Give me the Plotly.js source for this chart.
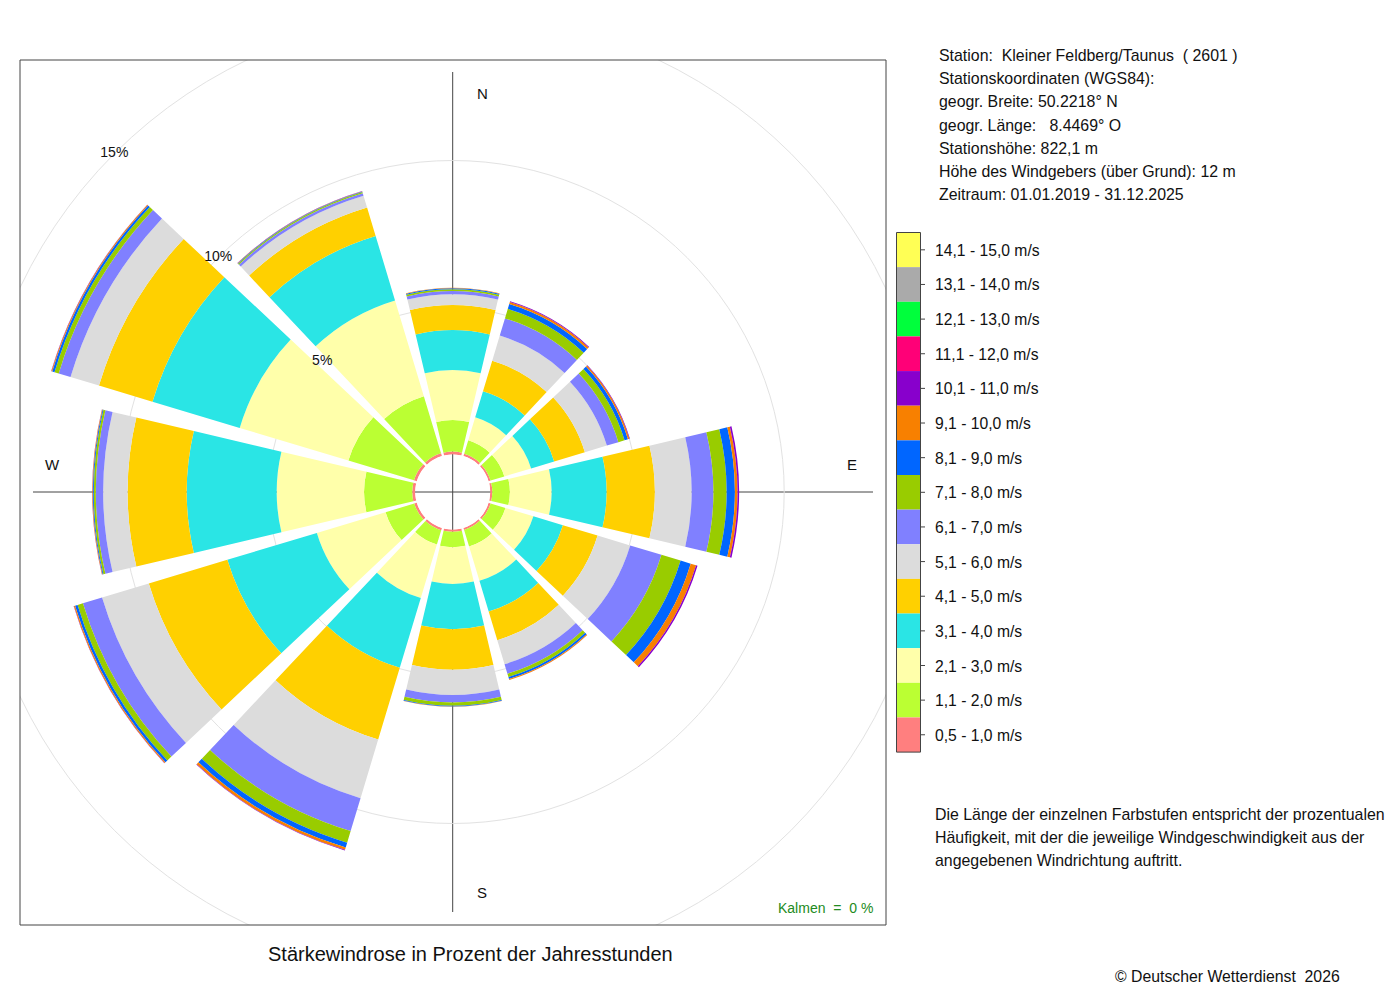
<!DOCTYPE html>
<html>
<head>
<meta charset="utf-8">
<script src="https://cdn.plot.ly/plotly-3.0.1.min.js"></script>
<style>
html, body { margin:0; padding:0; background:#ffffff; width:1400px; height:1000px; overflow:hidden; }
#chart { position:absolute; left:-200px; top:-200px; width:1800px; height:1400px; }
</style>
</head>
<body>
<div id="chart"></div>
<script>
// Wind directions in degrees, clockwise from north
const directions = [0, 30, 60, 90, 120, 150, 180, 210, 240, 270, 300, 330];

// Speed classes, lowest first
const speedLabels = ['0,5 - 1,0 m/s', '1,1 - 2,0 m/s', '2,1 - 3,0 m/s', '3,1 - 4,0 m/s',
  '4,1 - 5,0 m/s', '5,1 - 6,0 m/s', '6,1 - 7,0 m/s', '7,1 - 8,0 m/s', '8,1 - 9,0 m/s',
  '9,1 - 10,0 m/s', '10,1 - 11,0 m/s', '11,1 - 12,0 m/s', '12,1 - 13,0 m/s',
  '13,1 - 14,0 m/s', '14,1 - 15,0 m/s'];
const speedColors = ['#FF7F7F', '#BBFF33', '#FFFFAA', '#2AE5E5', '#FFD000', '#DCDCDC',
  '#8080FF', '#99CC00', '#0066FF', '#F88000', '#8800CC', '#FF0077', '#00FF3C', '#AAAAAA', '#FFFF55'];

// Percent of hours per direction (N, 30, 60, E, 120, 150, S, 210, 240, W, 300, 330)
const v05_10  = [0.10, 0.08, 0.07, 0.07, 0.07, 0.07, 0.08, 0.08, 0.09, 0.10, 0.10, 0.10];
const v11_20  = [1.07, 0.48, 0.49, 0.60, 0.53, 0.59, 0.52, 0.51, 1.02, 1.64, 2.33, 2.03];
const v21_30  = [1.70, 0.82, 0.95, 1.42, 0.99, 1.22, 1.25, 1.90, 2.44, 2.97, 3.86, 3.40];
const v31_40  = [1.36, 0.92, 0.82, 1.87, 1.05, 1.09, 1.54, 2.48, 3.18, 3.06, 3.10, 2.29];
const v41_50  = [0.85, 1.09, 1.09, 1.64, 1.23, 1.02, 1.38, 2.55, 2.79, 2.01, 1.90, 1.01];
const v51_60  = [0.37, 0.89, 0.78, 1.25, 1.16, 0.85, 0.86, 2.08, 1.66, 0.83, 1.01, 0.42];
const v61_70  = [0.11, 0.61, 0.41, 0.74, 1.11, 0.34, 0.25, 1.17, 0.68, 0.25, 0.42, 0.09];
const v71_80  = [0.06, 0.34, 0.22, 0.45, 0.68, 0.12, 0.11, 0.41, 0.19, 0.07, 0.15, 0.04];
const v81_90  = [0.03, 0.17, 0.12, 0.28, 0.36, 0.07, 0.03, 0.17, 0.09, 0.03, 0.08, 0.02];
const v91_100 = [0.02, 0.07, 0.05, 0.09, 0.19, 0.03, 0.01, 0.085, 0.04, 0.02, 0.03, 0.01];
const v101_110 = [0.00, 0.03, 0.02, 0.055, 0.05, 0.005, 0.00, 0.02, 0.01, 0.005, 0.01, 0.005];
const v111_120 = [0, 0, 0, 0, 0, 0, 0, 0, 0, 0, 0, 0];
const v121_130 = [0, 0, 0, 0, 0, 0, 0, 0, 0, 0, 0, 0];
const v131_140 = [0, 0, 0, 0, 0, 0, 0, 0, 0, 0, 0, 0];
const v141_150 = [0, 0, 0, 0, 0, 0, 0, 0, 0, 0, 0, 0];
const seriesValues = [v05_10, v11_20, v21_30, v31_40, v41_50, v51_60, v61_70, v71_80,
  v81_90, v91_100, v101_110, v111_120, v121_130, v131_140, v141_150];

// Radial grid labels
const radialTicks = [5, 10, 15];
const radialTickText = ['5%', '10%', '15%'];
const radialLabelAngle = 315;

const calmText = 'Kalmen\u00a0 =\u00a0 0 %';
const chartTitle = 'Stärkewindrose in Prozent der Jahresstunden';
const stationLines = [
  'Station:\u00a0 Kleiner Feldberg/Taunus\u00a0 ( 2601 )',
  'Stationskoordinaten (WGS84):',
  'geogr. Breite: 50.2218° N',
  'geogr. Länge:\u00a0\u00a0 8.4469° O',
  'Stationshöhe: 822,1 m',
  'Höhe des Windgebers (über Grund): 12 m',
  'Zeitraum: 01.01.2019 - 31.12.2025'
];
const noteLines = [
  'Die Länge der einzelnen Farbstufen entspricht der prozentualen',
  'Häufigkeit, mit der die jeweilige Windgeschwindigkeit aus der',
  'angegebenen Windrichtung auftritt.'
];
const copyrightText = '© Deutscher Wetterdienst\u00a0 2026';
const compassLabels = ['N', 'E', 'S', 'W'];

// ---------- geometry helpers (window pixels -> paper) ----------
const FIG_W = 1800, FIG_H = 1400, OFF_X = 200, OFF_Y = 200;
const px = x => (x + OFF_X) / FIG_W;
const py = y => 1 - (y + OFF_Y) / FIG_H;
const CX = 452.7, CY = 492, R_OUT = 520, R_HOLE = 37.5, PX_PER_PCT = 29.4;
const FONT = 'Liberation Sans, Arial, Helvetica, sans-serif';

const traces = seriesValues.map((vals, i) => ({
  type: 'barpolar',
  r: vals,
  theta: directions,
  width: 26.5,
  name: speedLabels[i],
  marker: { color: speedColors[i], line: { width: 0 } },
  hoverinfo: 'skip',
  showlegend: false
}));

traces.push({
  type: 'scatterpolar',
  mode: 'text',
  r: radialTicks,
  theta: radialTicks.map(() => radialLabelAngle),
  text: radialTickText,
  textposition: 'middle center',
  textfont: { family: FONT, size: 14, color: '#111' },
  hoverinfo: 'skip',
  showlegend: false
});

const shapes = [];
// cross lines below the rose
shapes.push({ type: 'line', layer: 'below', xref: 'paper', yref: 'paper',
  x0: px(CX), x1: px(CX), y0: py(72), y1: py(912), line: { color: '#444', width: 1 } });
shapes.push({ type: 'line', layer: 'below', xref: 'paper', yref: 'paper',
  x0: px(33), x1: px(873), y0: py(CY), y1: py(CY), line: { color: '#444', width: 1 } });
// white masks outside the plot frame
const FL = 20, FR = 886, FT = 60, FB = 925;
const mask = (x0, x1, y0, y1) => ({ type: 'rect', layer: 'above', xref: 'paper', yref: 'paper',
  x0, x1, y0, y1, fillcolor: '#ffffff', line: { width: 0 } });
shapes.push(mask(0, px(FL), 0, 1));
shapes.push(mask(px(FR), 1, 0, 1));
shapes.push(mask(0, 1, py(FT), 1));
shapes.push(mask(0, 1, 0, py(FB)));
shapes.push({ type: 'rect', layer: 'above', xref: 'paper', yref: 'paper',
  x0: px(FL), x1: px(FR), y0: py(FB), y1: py(FT), line: { color: '#444', width: 1 }, fillcolor: 'rgba(0,0,0,0)' });

// colour key
const KEY_L = 896.5, KEY_R = 920.5, KEY_T = 232.5, KEY_H = 34.64;
const annotations = [];
const nBins = speedLabels.length;
for (let k = 0; k < nBins; k++) {
  const i = nBins - 1 - k;            // highest class on top
  const top = KEY_T + k * KEY_H;
  shapes.push({ type: 'rect', layer: 'above', xref: 'paper', yref: 'paper',
    x0: px(KEY_L), x1: px(KEY_R), y0: py(top + KEY_H), y1: py(top),
    fillcolor: speedColors[i], line: { width: 0 } });
  shapes.push({ type: 'line', layer: 'above', xref: 'paper', yref: 'paper',
    x0: px(KEY_R), x1: px(KEY_R + 4.5), y0: py(top + KEY_H / 2), y1: py(top + KEY_H / 2),
    line: { color: '#444', width: 1 } });
  annotations.push({ xref: 'paper', yref: 'paper', x: px(933), y: py(top + KEY_H / 2 + 0.5),
    xanchor: 'left', yanchor: 'middle', showarrow: false, text: speedLabels[i],
    font: { family: FONT, size: 15.7, color: '#111' } });
}
shapes.push({ type: 'rect', layer: 'above', xref: 'paper', yref: 'paper',
  x0: px(KEY_L), x1: px(KEY_R), y0: py(KEY_T + nBins * KEY_H), y1: py(KEY_T),
  line: { color: '#444', width: 1 }, fillcolor: 'rgba(0,0,0,0)' });

// texts
const txt = (x, y, text, size, anchor, color) => ({ xref: 'paper', yref: 'paper', x: px(x), y: py(y),
  xanchor: anchor || 'left', yanchor: 'middle', showarrow: false, text,
  font: { family: FONT, size: size, color: color || '#111' } });

stationLines.forEach((t, i) => annotations.push(txt(937, 55.5 + i * 23.2, t, 15.9)));
noteLines.forEach((t, i) => annotations.push(txt(933, 814 + i * 23.15, t, 15.9)));
annotations.push(txt(1113, 976, copyrightText, 15.8));
annotations.push(txt(470, 954, chartTitle, 20, 'center'));
annotations.push(txt(875, 908, calmText, 14, 'right', '#228B22'));
const compassPos = [[482, 94], [852, 464], [482, 892], [53, 464]];
compassLabels.forEach((t, i) => annotations.push(txt(compassPos[i][0], compassPos[i][1], t, 15, 'center')));

const layout = {
  width: FIG_W, height: FIG_H,
  margin: { l: 0, r: 0, t: 0, b: 0 },
  paper_bgcolor: '#ffffff',
  showlegend: false,
  font: { family: FONT, color: '#111' },
  polar: {
    domain: { x: [px(CX - R_OUT), px(CX + R_OUT)], y: [py(CY + R_OUT), py(CY - R_OUT)] },
    bgcolor: 'rgba(0,0,0,0)',
    hole: R_HOLE / R_OUT,
    barmode: 'stack',
    radialaxis: {
      range: [0, (R_OUT - R_HOLE) / PX_PER_PCT],
      tickvals: radialTicks,
      showticklabels: false, ticks: '', showline: false,
      showgrid: true, gridcolor: '#e2e2e2', gridwidth: 1
    },
    angularaxis: {
      direction: 'clockwise', rotation: 90,
      showgrid: false, showline: false, showticklabels: false, ticks: ''
    }
  },
  shapes, annotations
};

Plotly.newPlot('chart', traces, layout, { staticPlot: true, displayModeBar: false });
</script>
</body>
</html>
